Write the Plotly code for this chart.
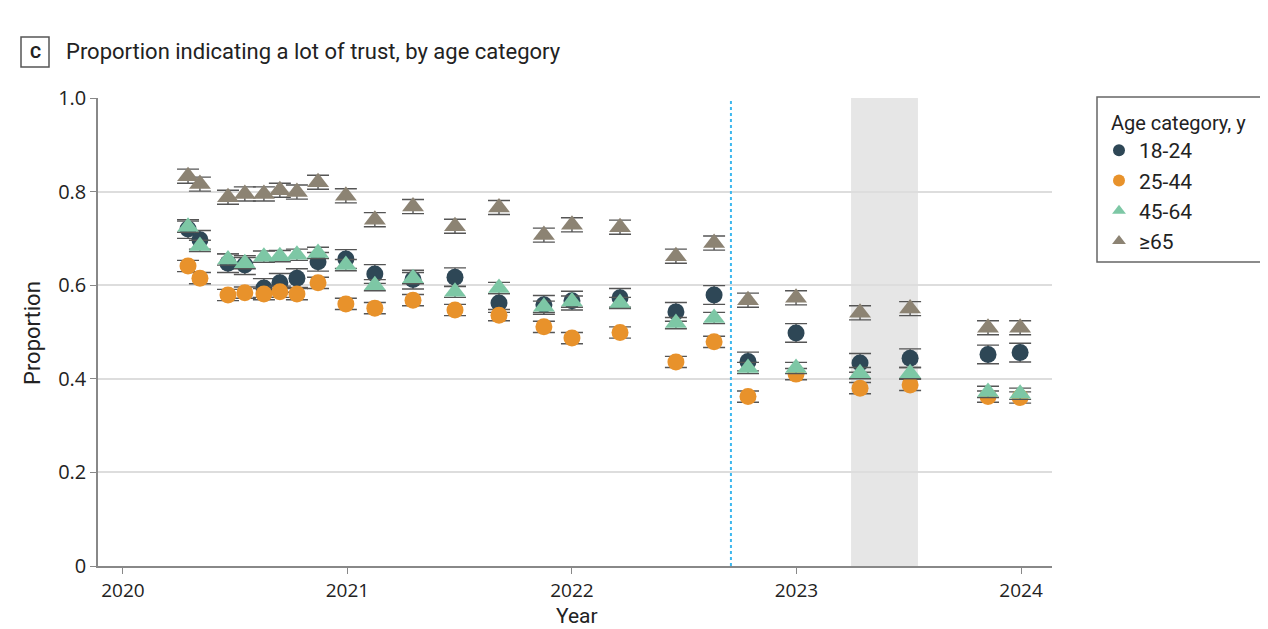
import plotly.graph_objects as go

# Survey wave dates (decimal year)
waves = [2020.29, 2020.343, 2020.468, 2020.543, 2020.628, 2020.699, 2020.775, 2020.869,
         2020.993, 2021.122, 2021.292, 2021.479, 2021.675, 2021.875, 2022.0, 2022.214,
         2022.463, 2022.633, 2022.784, 2022.998, 2023.283, 2023.506, 2023.853, 2023.996]

age_18_24 = [0.720, 0.697, 0.647, 0.643, 0.594, 0.605, 0.615, 0.650,
             0.656, 0.624, 0.612, 0.617, 0.562, 0.558, 0.567, 0.573,
             0.543, 0.579, 0.437, 0.498, 0.434, 0.444, 0.452, 0.456]
age_25_44 = [0.641, 0.615, 0.579, 0.584, 0.581, 0.586, 0.581, 0.605,
             0.560, 0.551, 0.568, 0.547, 0.536, 0.511, 0.487, 0.499,
             0.436, 0.479, 0.362, 0.410, 0.380, 0.387, 0.362, 0.360]
age_45_64 = [0.725, 0.684, 0.655, 0.647, 0.661, 0.662, 0.665, 0.669,
             0.643, 0.600, 0.615, 0.586, 0.594, 0.554, 0.565, 0.562,
             0.519, 0.530, 0.423, 0.423, 0.412, 0.412, 0.372, 0.368]
age_65_plus = [0.833, 0.816, 0.788, 0.795, 0.795, 0.803, 0.799, 0.820,
               0.791, 0.740, 0.768, 0.726, 0.766, 0.707, 0.729, 0.724,
               0.662, 0.690, 0.568, 0.573, 0.541, 0.550, 0.509, 0.509]

err_18_24 = 0.020
err_25_44 = 0.012
err_45_64 = 0.012
err_65_plus = 0.015

series_names = ["18-24", "25-44", "45-64", "≥65"]
colors = ["#2E4756", "#E8922B", "#7DC7A5", "#8C8373"]
symbols = ["circle", "circle", "triangle-up", "triangle-up"]
marker_sizes = [17, 17, 19, 19]

event_line_x = 2022.708
band_x0, band_x1 = 2023.243, 2023.541

year_ticks = [2020, 2021, 2022, 2023, 2024]
prop_ticks = [0, 0.2, 0.4, 0.6, 0.8, 1.0]
prop_tick_text = ["0", "0.2", "0.4", "0.6", "0.8", "1.0"]

FONT = "Roboto"
TICKFONT = "Open Sans"
OFF = 8  # page body margin
W, H = 1260, 621
L, R, T, B = 90, 216, 90, 63
PW, PH = W - L - R, H - T - B


def px(xs):
    """screen x -> paper fraction"""
    return (xs - OFF - L) / PW


def py(ys):
    """screen y -> paper fraction"""
    return (H - B - (ys - OFF)) / PH


fig = go.Figure()
for name, vals, err, col, sym, ms in zip(series_names,
                                         [age_18_24, age_25_44, age_45_64, age_65_plus],
                                         [err_18_24, err_25_44, err_45_64, err_65_plus],
                                         colors, symbols, marker_sizes):
    fig.add_trace(go.Scatter(
        x=waves, y=vals, mode="markers", name=name,
        marker=dict(symbol=sym, size=ms, color=col, line=dict(width=0)),
        error_y=dict(type="constant", value=err, color="#555555", thickness=1.4, width=11),
    ))

fig.add_vrect(x0=band_x0, x1=band_x1, fillcolor="#E6E6E6", opacity=1, line_width=0, layer="below")
fig.add_vline(x=event_line_x, line=dict(color="#3DB8EE", width=2, dash="dot"))

# Panel label box
fig.add_shape(type="rect", xref="paper", yref="paper",
              x0=px(21), x1=px(49), y0=py(67), y1=py(37),
              line=dict(color="#555555", width=1.5), fillcolor="white")
fig.add_annotation(xref="paper", yref="paper", x=px(35), y=py(52),
                   text="<b>C</b>", showarrow=False, font=dict(family=FONT, size=17, color="#222"),
                   xanchor="center", yanchor="middle")
fig.add_annotation(xref="paper", yref="paper", x=px(64), y=py(52),
                   text="Proportion indicating a lot of trust, by age category", showarrow=False,
                   font=dict(family=FONT, size=22, color="#222"),
                   xanchor="left", yanchor="middle")

# Axis titles
fig.add_annotation(xref="paper", yref="paper", x=px(32), y=py(333),
                   text="Proportion", showarrow=False, textangle=-90,
                   font=dict(family=FONT, size=22, color="#222"),
                   xanchor="center", yanchor="middle")
fig.add_annotation(xref="paper", yref="paper", x=px(577), y=py(616),
                   text="Year", showarrow=False,
                   font=dict(family=FONT, size=21, color="#222"),
                   xanchor="center", yanchor="middle")

# Legend frame
fig.add_shape(type="rect", xref="paper", yref="paper",
              x0=px(1097), x1=px(1265), y0=py(262), y1=py(97),
              line=dict(color="#666666", width=1.5), fillcolor="rgba(0,0,0,0)")

fig.update_layout(
    width=W, height=H,
    margin=dict(l=L, r=R, t=T, b=B, autoexpand=False),
    plot_bgcolor="white", paper_bgcolor="white",
    font=dict(family=FONT, size=16, color="#222"),
    showlegend=True,
    legend=dict(
        title=dict(text="\u00a0\u00a0Age category, y",
                   font=dict(family=FONT, size=20, color="#222")),
        x=px(1099), y=py(104), xanchor="left", yanchor="top",
        borderwidth=0, bgcolor="rgba(0,0,0,0)",
        font=dict(family=FONT, size=21, color="#222"),
        itemsizing="constant",
    ),
    xaxis=dict(
        range=[2019.889, 2024.138], tickvals=year_ticks, ticktext=[str(t) for t in year_ticks],
        showgrid=False, zeroline=False, automargin=False,
        showline=True, linecolor="#888888", linewidth=1.5,
        ticks="outside", ticklen=6, tickcolor="#888888",
        tickfont=dict(family=TICKFONT, size=19),
    ),
    yaxis=dict(
        range=[0, 1.0], tickvals=prop_ticks, ticktext=prop_tick_text,
        showgrid=True, gridcolor="#DDDDDD", gridwidth=1.5, zeroline=False, automargin=False,
        showline=True, linecolor="#888888", linewidth=1.5,
        ticks="outside", ticklen=6, tickcolor="#888888",
        tickfont=dict(family=TICKFONT, size=20),
    ),
)

fig.write_html("out.html")
